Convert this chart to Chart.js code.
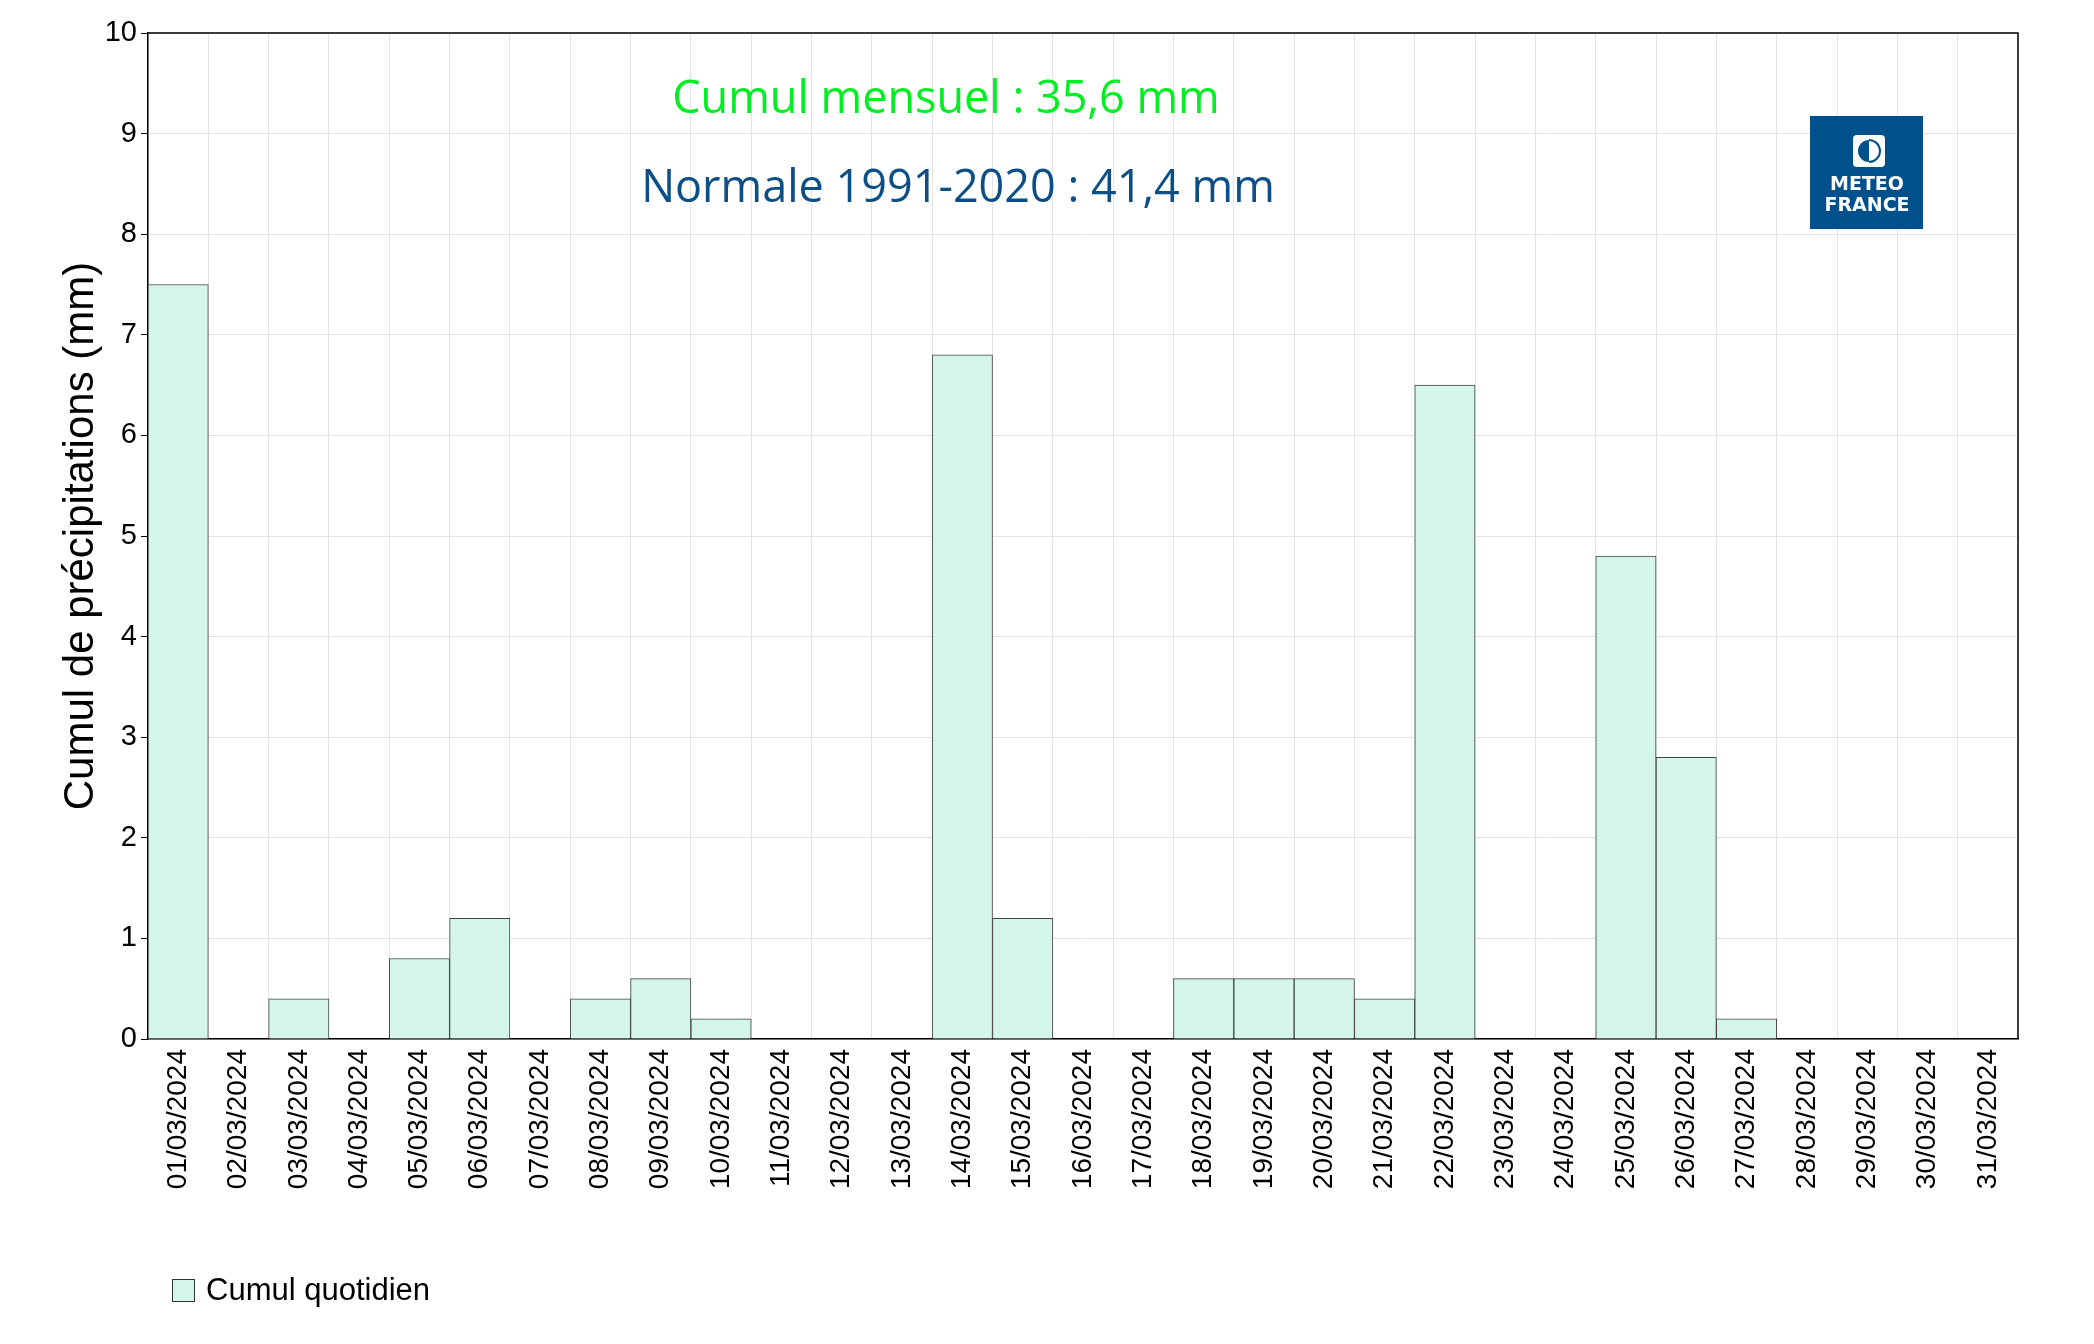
<!DOCTYPE html>
<html><head><meta charset="utf-8">
<script src="https://cdn.jsdelivr.net/npm/chart.js@4.4.1/dist/chart.umd.min.js"></script>
<style>html,body{margin:0;padding:0;background:#fff}#c{display:block}</style>
</head><body>
<canvas id="c" width="2094" height="1344"></canvas>
<script>
const days = [];
for (let d = 1; d <= 31; d++) days.push(String(d).padStart(2,'0') + '/03/2024');
const rain = [7.5,0,0.4,0,0.8,1.2,0,0.4,0.6,0.2,0,0,0,6.8,1.2,0,0,0.6,0.6,0.6,0.4,6.5,0,0,4.8,2.8,0.2,0,0,0,0];
const monthText = 'Cumul mensuel : 35,6 mm';
const normalText = 'Normale 1991-2020 : 41,4 mm';
const legendText = 'Cumul quotidien';

function barFill(c){
  const a = c.chart.chartArea;
  const m = c.chart.getDatasetMeta(0).data[c.dataIndex];
  if (!a || !m || !m.width) return '#d4f6ea';
  const g = c.chart.ctx.createLinearGradient(m.x - m.width/2, 0, m.x + m.width/2, 0);
  g.addColorStop(0, '#ccf4e6'); g.addColorStop(1, '#e2f9f1');
  return g;
}

const extras = {
  id: 'extras',
  afterDraw(chart){
    const ctx = chart.ctx, a = chart.chartArea;
    ctx.save();
    ctx.strokeStyle = '#000'; ctx.lineWidth = 1.5;
    ctx.beginPath(); ctx.moveTo(a.left, a.top); ctx.lineTo(a.right, a.top); ctx.lineTo(a.right, a.bottom); ctx.stroke();
    ctx.textAlign = 'center'; ctx.textBaseline = 'middle';
    ctx.font = '45px "Open Sans"';
    ctx.fillStyle = '#00ee22'; ctx.fillText(monthText, 955 - 9, 100);
    ctx.fillStyle = '#0b4f86'; ctx.fillText(normalText, 967 - 9, 189);
    // logo
    ctx.fillStyle = '#00508c'; ctx.fillRect(1810, 116, 113, 113);
    ctx.fillStyle = '#fff';
    ctx.beginPath(); ctx.roundRect(1853, 135, 32, 32, 4); ctx.fill();
    ctx.fillStyle = '#00508c';
    ctx.beginPath(); ctx.arc(1869, 151, 11, Math.PI/2, Math.PI*1.5); ctx.fill();
    ctx.lineWidth = 2; ctx.strokeStyle = '#00508c';
    ctx.beginPath(); ctx.arc(1869, 151, 11, -Math.PI/2, Math.PI/2); ctx.stroke();
    ctx.fillStyle = '#fff'; ctx.font = 'bold 19px "DejaVu Sans"';
    ctx.fillText('METEO', 1867, 185); ctx.fillText('FRANCE', 1867, 206);
    // legend
    ctx.fillStyle = '#d4f6ea'; ctx.fillRect(172, 1279, 22, 22);
    ctx.strokeStyle = '#333'; ctx.lineWidth = 1; ctx.strokeRect(172.5, 1279.5, 22, 22);
    ctx.fillStyle = '#000'; ctx.textAlign = 'left'; ctx.font = '31px "Liberation Sans"';
    ctx.fillText(legendText, 206, 1291);
    ctx.restore();
  }
};

new Chart(document.getElementById('c'), {
  type: 'bar',
  data: { labels: days, datasets: [{ label: legendText, data: rain, backgroundColor: barFill, borderColor: '#444', borderWidth: 1, barPercentage: 1, categoryPercentage: 1 }] },
  options: {
    responsive: false, animation: false, devicePixelRatio: 1,
    layout: { padding: { left: 56, top: 33, right: 76, bottom: 0 } },
    plugins: { legend: { display: false }, tooltip: { enabled: false } },
    scales: {
      x: {
        grid: { color: '#e3e3e3', tickLength: 0, offset: true },
        border: { color: '#000', width: 1.5 },
        ticks: { color: '#000', minRotation: 90, maxRotation: 90, padding: 10, font: { family: 'Liberation Sans', size: 28 } },
        afterFit(s){ s.height = 1344 - 1039; }
      },
      y: {
        min: 0, max: 10,
        grid: { color: '#e3e3e3', tickColor: '#000', tickLength: 7 },
        border: { color: '#000', width: 1.5 },
        ticks: { stepSize: 1, color: '#000', padding: 4, font: { family: 'Liberation Sans', size: 29 } },
        title: { display: true, text: 'Cumul de précipitations (mm)', color: '#000', font: { family: 'Liberation Sans', size: 42 }, padding: 0 },
        afterFit(s){ s.width = 92; }
      }
    }
  },
  plugins: [extras]
});
</script>
</body></html>
